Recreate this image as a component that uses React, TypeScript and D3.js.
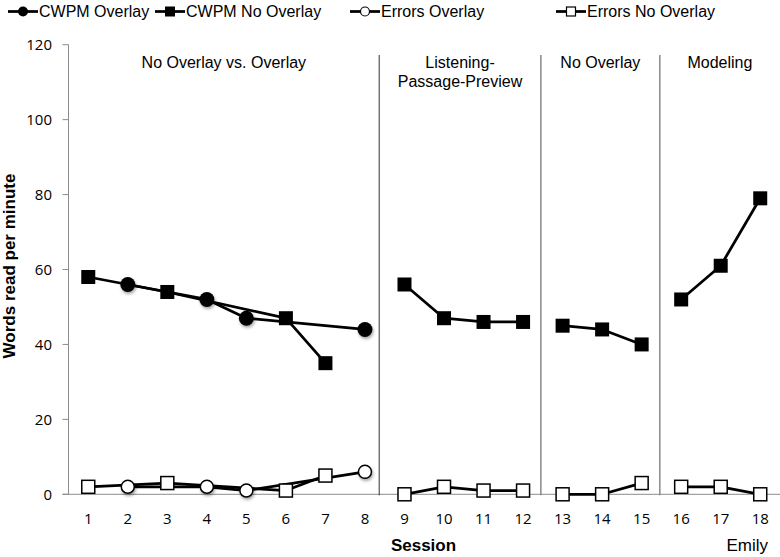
import React from "react";
import * as d3 from "d3";

const sessions = [1, 2, 3, 4, 5, 6, 7, 8, 9, 10, 11, 12, 13, 14, 15, 16, 17, 18];
const yTicks = [0, 20, 40, 60, 80, 100, 120];

const phaseNames = [["No Overlay vs. Overlay"], ["Listening-", "Passage-Preview"], ["No Overlay"], ["Modeling"]];
const phaseBounds = [8.36, 12.45, 15.46];

// CWPM Overlay (filled circles)
const cwpmOverlay = [
  { s: 2, v: 56, p: 0 }, { s: 4, v: 52, p: 0 }, { s: 5, v: 47, p: 0 }, { s: 8, v: 44, p: 0 },
];
// CWPM No Overlay (filled squares)
const cwpmNoOverlay = [
  { s: 1, v: 58, p: 0 }, { s: 3, v: 54, p: 0 }, { s: 6, v: 47, p: 0 }, { s: 7, v: 35, p: 0 },
  { s: 9, v: 56, p: 1 }, { s: 10, v: 47, p: 1 }, { s: 11, v: 46, p: 1 }, { s: 12, v: 46, p: 1 },
  { s: 13, v: 45, p: 2 }, { s: 14, v: 44, p: 2 }, { s: 15, v: 40, p: 2 },
  { s: 16, v: 52, p: 3 }, { s: 17, v: 61, p: 3 }, { s: 18, v: 79, p: 3 },
];
// Errors Overlay (open circles)
const errorsOverlay = [
  { s: 2, v: 2, p: 0 }, { s: 4, v: 2, p: 0 }, { s: 5, v: 1, p: 0 }, { s: 8, v: 6, p: 0 },
];
// Errors No Overlay (open squares)
const errorsNoOverlay = [
  { s: 1, v: 2, p: 0 }, { s: 3, v: 3, p: 0 }, { s: 6, v: 1, p: 0 }, { s: 7, v: 5, p: 0 },
  { s: 9, v: 0, p: 1 }, { s: 10, v: 2, p: 1 }, { s: 11, v: 1, p: 1 }, { s: 12, v: 1, p: 1 },
  { s: 13, v: 0, p: 2 }, { s: 14, v: 0, p: 2 }, { s: 15, v: 3, p: 2 },
  { s: 16, v: 2, p: 3 }, { s: 17, v: 2, p: 3 }, { s: 18, v: 0, p: 3 },
];

const legendItems = ["CWPM Overlay", "CWPM No Overlay", "Errors Overlay", "Errors No Overlay"];

type Pt = { s: number; v: number; p: number };

export default function App() {
  const W = 780, H = 557;
  const left = 68.5, right = 780, top = 44.7, bottom = 494.3;
  const x = d3.scaleLinear().domain([0.5, 18.5]).range([left, right]);
  const y = d3.scaleLinear().domain([0, 120]).range([bottom, top]);
  const line = d3.line<Pt>().x((d) => x(d.s)).y((d) => y(d.v));

  const lines = (data: Pt[]) =>
    Array.from(d3.group(data, (d) => d.p).values()).map((g, i) => (
      <path key={i} d={line(g) || ""} fill="none" stroke="#000" strokeWidth={2.75} strokeLinejoin="round" />
    ));

  const edges = [left, ...phaseBounds.map((b) => x(b)), right];
  const axisGray = "#8c8c8c";
  const tickFont = "'Open Sans', sans-serif";
  const armFont = "'Liberation Sans', Arial, sans-serif";

  const sq = (cx: number, cy: number, s: number, filled: boolean, key: any) => (
    <rect key={key} x={cx - s / 2} y={cy - s / 2} width={s} height={s}
      fill={filled ? "#000" : "#fff"} stroke="#000" strokeWidth={filled ? 0 : 1.5} />
  );
  const circ = (cx: number, cy: number, r: number, filled: boolean, key: any) => (
    <circle key={key} cx={cx} cy={cy} r={r} fill={filled ? "#000" : "#fff"} stroke="#000"
      strokeWidth={filled ? 0 : 1.5} filter="url(#shadow)" />
  );

  const legendX = [8, 155, 350, 556];
  const legendY = 17;
  const lineLen = 30;

  return (
    <svg width={W} height={H} style={{ position: "absolute", left: 0, top: 0, background: "#fff" }}>
      <defs>
        <filter id="shadow" x="-50%" y="-50%" width="200%" height="200%">
          <feDropShadow dx="1" dy="2" stdDeviation="1.5" floodColor="#000" floodOpacity="0.35" />
        </filter>
      </defs>
      <rect width={W} height={H} fill="#fff" />

      {/* Legend */}
      {legendItems.map((t, i) => {
        const lx = legendX[i];
        const mx = lx + lineLen / 2;
        const ly = legendY - 5.5;
        return (
          <g key={t}>
            <line x1={lx} x2={lx + lineLen} y1={ly} y2={ly} stroke="#000" strokeWidth={2.75} />
            {i === 0 && <circle cx={mx} cy={ly} r={5} fill="#000" />}
            {i === 1 && <rect x={mx - 5} y={ly - 5} width={10} height={10} fill="#000" />}
            {i === 2 && <circle cx={mx} cy={ly} r={4.5} fill="#fff" stroke="#000" strokeWidth={1.2} />}
            {i === 3 && <rect x={mx - 4.5} y={ly - 4.5} width={9} height={9} fill="#fff" stroke="#000" strokeWidth={1.2} />}
            <text x={lx + lineLen + 1} y={legendY} fontFamily={armFont} fontSize={16} fill="#000">{t}</text>
          </g>
        );
      })}

      {/* Y axis */}
      <line x1={left} x2={left} y1={top} y2={bottom} stroke={axisGray} strokeWidth={1} />
      {yTicks.map((t) => (
        <g key={t}>
          <line x1={left - 6} x2={left} y1={y(t)} y2={y(t)} stroke={axisGray} strokeWidth={1} />
          <text x={52} y={y(t) + 5.5} textAnchor="end" fontFamily={tickFont} fontSize={15} fill="#000">{t}</text>
        </g>
      ))}
      {/* X axis */}
      <line x1={left - 6} x2={right} y1={bottom} y2={bottom} stroke={axisGray} strokeWidth={1} />
      {sessions.map((s) => (
        <text key={s} x={x(s)} y={524} textAnchor="middle" fontFamily={tickFont} fontSize={15} fill="#000">{s}</text>
      ))}

      {/* Phase lines */}
      {phaseBounds.map((b, i) => (
        <line key={b} x1={x(b)} x2={x(b)} y1={55} y2={bottom + 1}
          stroke={i === 0 ? "#333" : "#888"} strokeWidth={i === 0 ? 1 : 1.5} />
      ))}
      {/* Phase labels */}
      {phaseNames.map((lines2, i) => (
        <text key={i} x={(edges[i] + edges[i + 1]) / 2} y={68} textAnchor="middle" fontFamily={armFont} fontSize={16} fill="#000">
          {lines2.map((l, j) => (
            <tspan key={j} x={(edges[i] + edges[i + 1]) / 2} dy={j === 0 ? 0 : 19}>{l}</tspan>
          ))}
        </text>
      ))}

      {/* Lines */}
      {lines(errorsNoOverlay)}
      {lines(errorsOverlay)}
      {lines(cwpmNoOverlay)}
      {lines(cwpmOverlay)}

      {/* Markers */}
      {errorsNoOverlay.map((d, i) => sq(x(d.s), y(d.v), 13, false, "en" + i))}
      {errorsOverlay.map((d, i) => circ(x(d.s), y(d.v), 6.5, false, "eo" + i))}
      {cwpmNoOverlay.map((d, i) => sq(x(d.s), y(d.v), 14, true, "cn" + i))}
      {cwpmOverlay.map((d, i) => circ(x(d.s), y(d.v), 7.5, true, "co" + i))}

      {/* Axis titles */}
      <text transform={`translate(15,266) rotate(-90)`} textAnchor="middle" fontFamily={armFont} fontWeight="bold" fontSize={17} fill="#000">
        Words read per minute
      </text>
      <text x={423.5} y={551} textAnchor="middle" fontFamily={armFont} fontWeight="bold" fontSize={17} fill="#000">Session</text>
      <text x={768} y={551} textAnchor="end" fontFamily={armFont} fontSize={17} fill="#000">Emily</text>
    </svg>
  );
}
